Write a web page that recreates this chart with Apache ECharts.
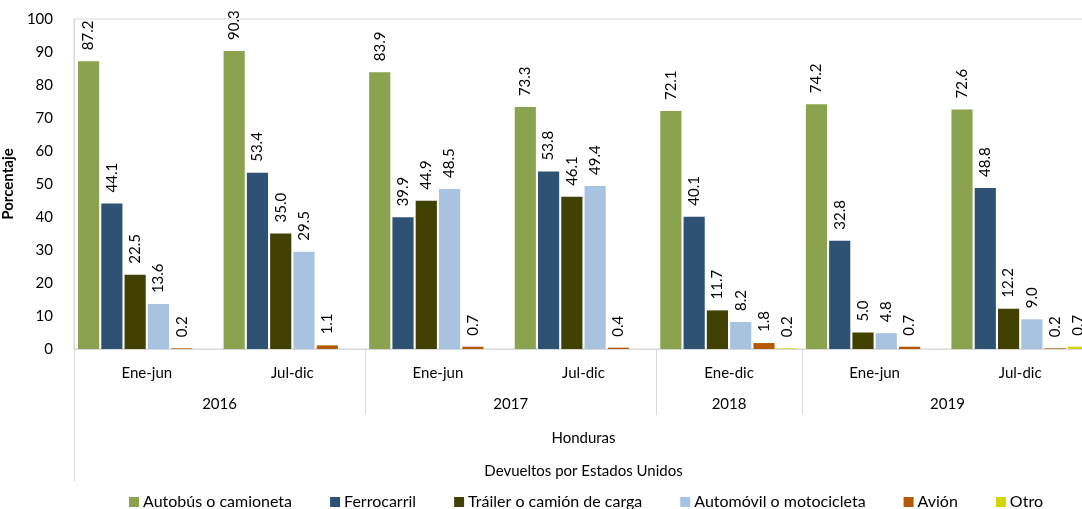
<!DOCTYPE html>
<html>
<head>
<meta charset="utf-8">
<script src="https://cdn.jsdelivr.net/npm/echarts@6/dist/echarts.min.js"></script>
<style>
html,body{margin:0;padding:0;background:#fff;}
#chart{width:1082px;height:509px;}
</style>
</head>
<body>
<div id="chart"></div>
<script>
var periods = ['Ene-jun', 'Jul-dic', 'Ene-jun', 'Jul-dic', 'Ene-dic', 'Ene-jun', 'Jul-dic'];
var years = ['2016', '2017', '2018', '2019'];
var yearSpans = [2, 2, 1, 2];
var yTicks = [0, 10, 20, 30, 40, 50, 60, 70, 80, 90, 100];

var autobus    = [87.2, 90.3, 83.9, 73.3, 72.1, 74.2, 72.6];
var ferrocarril = [44.1, 53.4, 39.9, 53.8, 40.1, 32.8, 48.8];
var trailer    = [22.5, 35.0, 44.9, 46.1, 11.7, 5.0, 12.2];
var automovil  = [13.6, 29.5, 48.5, 49.4, 8.2, 4.8, 9.0];
var avion      = [0.2, 1.1, 0.7, 0.4, 1.8, 0.7, 0.2];
var otro       = [null, null, null, null, 0.2, null, 0.7];

var seriesNames = ['Autobús o camioneta', 'Ferrocarril', 'Tráiler o camión de carga', 'Automóvil o motocicleta', 'Avión', 'Otro'];
var seriesData = [autobus, ferrocarril, trailer, automovil, avion, otro];
var colors = ['#8BA34E', '#2F5173', '#414101', '#A7C3E0', '#B35A03', '#D6D400'];

// half-category slots for the year level (boundaryGap false)
var nSlots = periods.length * 2 + 1;
var yearSlots = [], sepSlots = [], pos = 0;
for (var i = 0; i < nSlots; i++) yearSlots.push('');
for (var j = 0; j < years.length; j++) {
  yearSlots[pos + yearSpans[j]] = years[j];
  pos += yearSpans[j] * 2;
  if (j < years.length - 1) sepSlots.push(pos);
}
var blankSlots = yearSlots.map(function () { return ''; });

var FONT = 'Lato';
var chart = echarts.init(document.getElementById('chart'), null, {renderer: 'canvas'});
var option = {
  animation: false,
  color: colors,
  textStyle: {fontFamily: FONT},
  grid: {left: 74, right: -11, top: 19, bottom: 160, show: true, borderColor: '#D9D9D9', borderWidth: 1,
    containLabel: false, outerBoundsMode: 'none'},
  legend: {
    data: seriesNames,
    left: 124, top: 489,
    icon: 'rect', itemWidth: 10, itemHeight: 10, itemGap: 38,
    textStyle: {fontFamily: FONT, fontSize: 16, color: '#000', padding: [0, 0, 0, -1]}
  },
  xAxis: [
    {
      type: 'category', data: periods,
      axisLine: {show: true, lineStyle: {color: '#D9D9D9', width: 1}},
      axisTick: {show: false},
      axisLabel: {interval: 0, margin: 17, fontSize: 15, color: '#000', fontFamily: FONT},
      name: 'Honduras', nameLocation: 'middle', nameGap: 82,
      nameTextStyle: {fontSize: 15, color: '#000', fontFamily: FONT}
    },
    {
      type: 'category', data: yearSlots, boundaryGap: false, position: 'bottom',
      axisLine: {show: false},
      axisTick: {show: true, length: 66, lineStyle: {color: '#D9D9D9'},
        interval: function (idx) { return sepSlots.indexOf(idx) >= 0; }},
      axisLabel: {interval: 0, margin: 48, fontSize: 15, color: '#000', fontFamily: FONT},
      name: 'Devueltos por Estados Unidos', nameLocation: 'middle', nameGap: 115,
      nameTextStyle: {fontSize: 15, color: '#000', fontFamily: FONT}
    },
    {
      type: 'category', data: blankSlots, boundaryGap: false, position: 'bottom',
      axisLine: {show: false},
      axisTick: {show: true, length: 132, lineStyle: {color: '#D9D9D9'},
        interval: function (idx) { return idx === 0; }},
      axisLabel: {show: false}
    }
  ],
  yAxis: {
    type: 'value', min: yTicks[0], max: yTicks[yTicks.length - 1], interval: yTicks[1] - yTicks[0],
    axisLine: {show: true, lineStyle: {color: '#D9D9D9'}},
    axisTick: {show: false},
    splitLine: {show: false},
    axisLabel: {margin: 21, fontSize: 15, color: '#000', fontFamily: FONT},
    name: 'Porcentaje', nameLocation: 'middle', nameGap: 46,
    nameTextStyle: {fontSize: 15, fontWeight: 'bold', color: '#000', fontFamily: FONT}
  },
  series: seriesNames.map(function (n, k) {
    return {
      name: n, type: 'bar', data: seriesData[k],
      barCategoryGap: '5.5%', barGap: '10%',
      itemStyle: {color: colors[k]},
      label: {
        show: true, position: 'top', rotate: 90, align: 'left', verticalAlign: 'middle',
        distance: 11, fontSize: 15, color: '#000', fontFamily: FONT,
        formatter: function (p) { return p.value == null ? '' : p.value.toFixed(1); }
      }
    };
  })
};
chart.setOption(option);
</script>
</body>
</html>
